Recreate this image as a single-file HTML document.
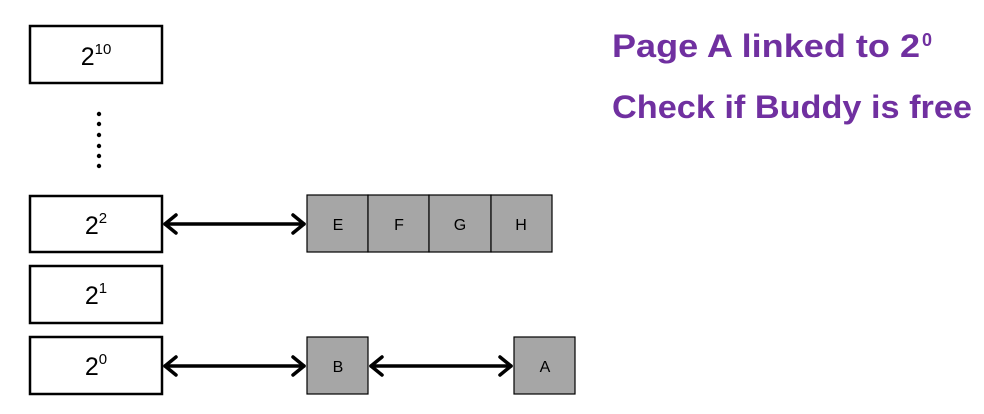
<!DOCTYPE html>
<html><head><meta charset="utf-8"><style>
html,body{margin:0;padding:0;background:#fff;}
svg{display:block;}
</style></head><body>
<svg width="984" height="414" xmlns="http://www.w3.org/2000/svg">
<g fill="#fff" stroke="#000" stroke-width="2.5">
<rect x="30" y="26" width="132" height="57"/>
<rect x="30" y="196" width="132" height="56"/>
<rect x="30" y="266" width="132" height="57"/>
<rect x="30" y="337" width="132" height="57"/>
</g>
<g fill="#a6a6a6" stroke="#000" stroke-width="1.2">
<rect x="307" y="195" width="61" height="57"/>
<rect x="368" y="195" width="61" height="57"/>
<rect x="429" y="195" width="62" height="57"/>
<rect x="491" y="195" width="61" height="57"/>
<rect x="307" y="337" width="61" height="57"/>
<rect x="514" y="337" width="61" height="57"/>
</g>
<g font-family="Liberation Sans, sans-serif" font-size="25" text-anchor="middle" fill="#000">
<text x="96" y="65">2<tspan font-size="15" dy="-11">10</tspan></text>
<text x="96" y="234">2<tspan font-size="15" dy="-11">2</tspan></text>
<text x="96" y="304">2<tspan font-size="15" dy="-11">1</tspan></text>
<text x="96" y="375">2<tspan font-size="15" dy="-11">0</tspan></text>
</g>
<g font-family="Liberation Sans, sans-serif" font-size="16" text-anchor="middle" fill="#000">
<text x="338" y="230">E</text><text x="399" y="230">F</text><text x="460" y="230">G</text><text x="521" y="230">H</text>
<text x="338" y="372">B</text><text x="545" y="372">A</text>
</g>
<g fill="#000">
<circle cx="99" cy="114" r="2.2"/><circle cx="99" cy="124" r="2.2"/><circle cx="99" cy="135" r="2.2"/>
<circle cx="99" cy="146" r="2.2"/><circle cx="99" cy="156" r="2.2"/><circle cx="99" cy="166" r="2.2"/>
</g>
<g stroke="#000" stroke-width="3.5" fill="none" stroke-linecap="round" stroke-linejoin="round">
<line x1="165" y1="224" x2="304" y2="224"/>
<polyline points="176,215 165,224 176,233"/><polyline points="293,215 304,224 293,233"/>
<line x1="165" y1="366" x2="304" y2="366"/>
<polyline points="176,357 165,366 176,375"/><polyline points="293,357 304,366 293,375"/>
<line x1="371" y1="366" x2="511" y2="366"/>
<polyline points="382,357 371,366 382,375"/><polyline points="500,357 511,366 500,375"/>
</g>
<g font-family="Liberation Sans, sans-serif" font-weight="bold" font-size="32" fill="#7030a0">
<text x="612" y="57" textLength="308" lengthAdjust="spacingAndGlyphs">Page A linked to 2</text>
<text x="922" y="46" font-size="18">0</text>
<text x="612" y="118" textLength="360" lengthAdjust="spacingAndGlyphs">Check if Buddy is free</text>
</g>
</svg>
</body></html>
